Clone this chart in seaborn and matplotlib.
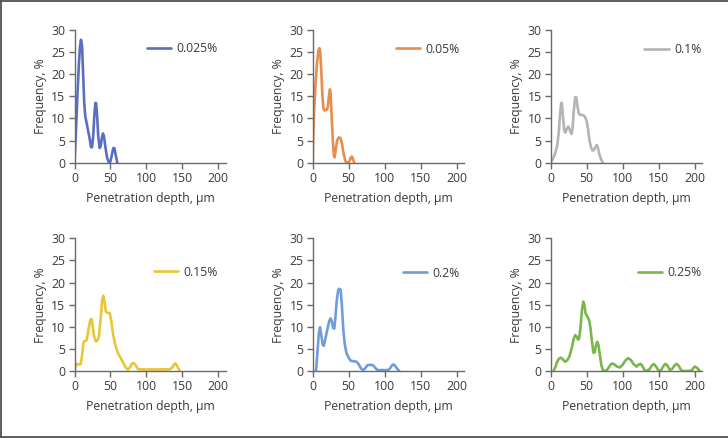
import numpy as np
import pandas as pd
import matplotlib
matplotlib.use("Agg")
import matplotlib.pyplot as plt
import seaborn as sns
from matplotlib.lines import Line2D

# ---------------- data ----------------
labels = ["0.025%", "0.05%", "0.1%", "0.15%", "0.2%", "0.25%"]
colors = ["#5b6ec0", "#e98c4c", "#b4b4b4", "#e8c736", "#6f9dd9", "#7bb64b"]

x_0025 = [0, 2, 4, 6, 7.5, 9, 10.5, 12, 13.5, 15, 18, 21, 23, 24.5, 26, 27.5, 29, 30,
          31.5, 33, 35, 36.5, 38, 39.5, 41, 43, 45.5, 48, 50, 52, 54, 55.5, 57, 59.5]
y_0025 = [0, 7, 15, 22, 26, 27.8, 26.5, 20, 13.5, 10.5, 8, 5.5, 3.5, 3.5, 6, 10.5, 13.5, 13.5,
          10.5, 6, 3.3, 3.8, 5.5, 6.6, 6, 3.5, 1, 0, 0.3, 1.8, 3.3, 3.3, 2, 0]

x_005 = [0, 0.8, 2, 4, 6, 8, 9.3, 10.5, 12, 13.5, 15, 16.5, 19, 21, 22.5, 24, 25, 26.5, 28,
         29.5, 30.5, 32, 34, 36, 38.5, 40.5, 42.5, 45, 47, 49, 51, 53, 54.5, 56, 57.8]
y_005 = [0, 6, 12, 18, 22.5, 25.3, 25.9, 25, 20.5, 15, 12.3, 11.8, 11.9, 12.5, 15, 16.6, 15.5, 10, 5,
         1.5, 1.2, 3, 5, 5.7, 5.6, 4.5, 2.5, 0.6, 0, 0, 0.3, 1.2, 1.4, 0.8, 0]

x_01 = [0, 3, 6, 9, 11, 13, 14.5, 15.5, 17, 19, 20.5, 22, 24.5, 27, 29, 30.5, 32, 34, 35.5,
        37, 39, 41, 45, 47.5, 50, 52, 54, 56, 58, 60, 62, 64, 65.5, 67.5, 70, 72.5]
y_01 = [0, 0.8, 2, 3.8, 6.5, 11, 13.5, 13.5, 10.5, 7.2, 6.8, 7.5, 8.2, 7.2, 6.5, 8, 11.5, 14.8, 14.8,
        13, 11.2, 10.8, 10.8, 10.4, 9.5, 7.5, 5, 3.5, 2.8, 2.8, 3.5, 4, 3.5, 2, 0.8, 0]

x_015 = [0, 1.5, 3.5, 6, 8.5, 10.5, 12.5, 14.5, 17, 19.5, 22, 23.5, 25, 27, 29.5, 32, 34, 36.5,
         38.5, 40, 41.5, 43.5, 46, 49, 51, 53.5, 56.5, 60, 64, 68, 71, 74.5, 77, 80, 82.5, 85,
         88.5, 95, 110, 125, 133, 136, 138.5, 140.3, 142.5, 145.8]
y_015 = [0, 1, 1.6, 1.5, 1.5, 3.5, 6.5, 6.8, 7, 9.5, 11.5, 11.8, 10.5, 8, 6.7, 6.9, 7.8, 12,
         16.2, 17, 16, 13.5, 13.1, 13.1, 11.5, 8.5, 6, 4.2, 3, 1.8, 0.8, 0.3, 0.8, 1.7, 1.8, 1.3,
         0.4, 0.35, 0.35, 0.35, 0.4, 0.8, 1.5, 1.7, 1.2, 0.2]

x_02 = [4.6, 6.5, 8.5, 10.2, 12, 14, 15.5, 17.5, 20.5, 23, 25, 26.5, 28.5, 30, 31.5, 33.5, 35.5,
        37, 38.9, 40.5, 42.5, 44.5, 47, 50, 53, 57, 61, 64, 67, 70.3, 73, 76, 80, 84, 87, 90.3,
        98, 105, 108, 110.5, 112, 114, 117, 120.3]
y_02 = [0, 4, 8.5, 9.9, 8, 5.9, 5.7, 7.2, 9.5, 11.3, 11.9, 11.2, 9.7, 9.6, 12, 16, 18.3,
        18.6, 18.3, 15, 9.5, 6.2, 4, 3, 2.3, 2.2, 2.1, 1.5, 0.6, 0.2, 0.6, 1.3, 1.4, 1.3, 0.7, 0.2,
        0.2, 0.2, 0.7, 1.3, 1.5, 1.3, 0.6, 0]

x_025 = [4, 6.5, 9, 11.5, 14.3, 17, 20, 23, 26, 29, 32, 34, 36, 38, 39.5, 41.5, 43.5, 45.3, 47,
         48.5, 50, 52, 53.7, 55.5, 57.5, 59.5, 61, 63, 64.7, 66.5, 68.5, 70.5, 72.5, 77, 80, 83,
         85.6, 88.5, 92, 96.2, 100, 104, 107.8, 111.5, 115, 119.4, 122, 125, 128, 131, 137,
         140.5, 143.5, 147, 150.4, 154, 157.5, 160, 162.5, 165.7, 169, 172.5, 175, 178, 182,
         190, 196, 198.5, 200.4, 203, 207.4]
y_025 = [0, 0.9, 2.1, 2.8, 3.0, 2.6, 2.1, 2.4, 3.3, 5, 7.3, 8.1, 7.8, 7.1, 7.3, 10, 13.8, 15.7, 14.8,
         13, 12.6, 12, 11.3, 9.5, 6.5, 4.1, 4.2, 5.8, 6.6, 5.8, 3.5, 1.3, 0.2, 0, 0.6, 1.4,
         1.7, 1.5, 1, 0.8, 1.4, 2.4, 2.9, 2.5, 1.6, 1, 1.4, 1.6, 1, 0, 0.3,
         1.2, 1.6, 0.9, 0, 0.3, 1.3, 1.6, 1.2, 0.2, 0.5, 1.3, 1.6, 1.2, 0,
         0, 0.1, 0.7, 1.0, 0.8, 0]

xs = [x_0025, x_005, x_01, x_015, x_02, x_025]
ys = [y_0025, y_005, y_01, y_015, y_02, y_025]

x_ticks = [0, 50, 100, 150, 200]
y_ticks = [0, 5, 10, 15, 20, 25, 30]
x_label = "Penetration depth, \u00b5m"
y_label = "Frequency, %"

# ---------------- style ----------------
sns.set_theme(style="white")
plt.rcParams["font.family"] = ["Open Sans", "DejaVu Sans"]
text_col = "#3a3a3a"
spine_col = "#6a6a6a"
fs = 8.8

fig = plt.figure(figsize=(7.28, 4.38), dpi=100)
W, H = 728.0, 438.0

lefts = [74.5, 312.7, 550.7]
tops = [30.0, 238.3]
aw, ah = 151.0, 132.7
leg_x = [[0.95, 0.975, 1.0], [0.95, 0.975, 1.0]]
leg_y = [[0.857, 0.855, 0.85], [0.746, 0.738, 0.742]]

for i in range(6):
    r, c = divmod(i, 3)
    ax = fig.add_axes([lefts[c] / W, 1 - (tops[r] + ah) / H, aw / W, ah / H])
    df = pd.DataFrame({"x": xs[i], "y": ys[i]})
    sns.lineplot(data=df, x="x", y="y", ax=ax, color=colors[i], linewidth=1.9,
                 estimator=None, label=labels[i], solid_joinstyle="round",
                 solid_capstyle="round")
    ax.set_xlim(0, 210)
    ax.set_ylim(0, 30)
    ax.set_xticks(x_ticks)
    ax.set_yticks(y_ticks)
    for s in ["top", "right"]:
        ax.spines[s].set_visible(False)
    for s in ["left", "bottom"]:
        ax.spines[s].set_color(spine_col)
        ax.spines[s].set_linewidth(1.0)
    ax.tick_params(axis="both", direction="out", length=4, width=1.0, color=spine_col,
                   labelsize=fs, labelcolor=text_col, pad=2.5, left=True, bottom=True)
    ax.set_xlabel(x_label, fontsize=fs, color=text_col, labelpad=5)
    ax.set_ylabel(y_label, fontsize=fs, color=text_col, labelpad=3)
    ax.set_facecolor("white")
    leg = ax.legend(loc="center right", bbox_to_anchor=(leg_x[r][c], leg_y[r][c]),
                    frameon=False, fontsize=fs, handlelength=2.0,
                    handletextpad=0.45, borderpad=0, borderaxespad=0)
    for t in leg.get_texts():
        t.set_color(text_col)

# outer frame (top, left, bottom)
frame_col = "#505050"
fig.add_artist(Line2D([0, 1], [1 - 0.8 / H, 1 - 0.8 / H], transform=fig.transFigure,
                      color=frame_col, linewidth=1.3))
fig.add_artist(Line2D([0.8 / W, 0.8 / W], [0, 1], transform=fig.transFigure,
                      color=frame_col, linewidth=1.3))
fig.add_artist(Line2D([0, 1], [1 - 436.8 / H, 1 - 436.8 / H], transform=fig.transFigure,
                      color=frame_col, linewidth=1.3))

fig.savefig("out.png", dpi=100, facecolor="white")
